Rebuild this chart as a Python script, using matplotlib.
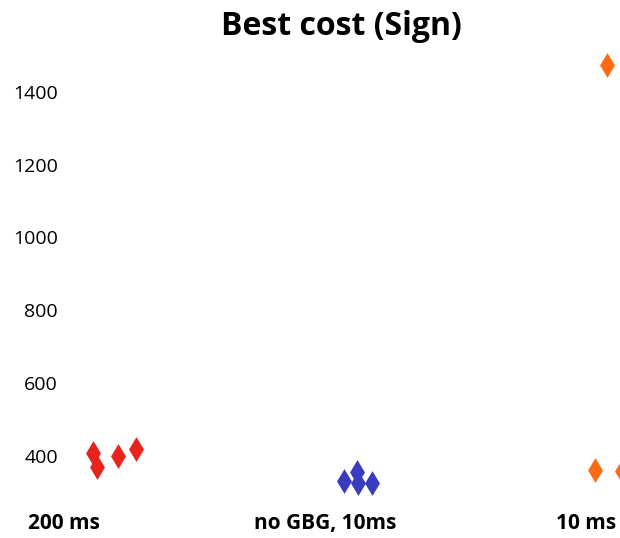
import matplotlib
matplotlib.use("Agg")
import matplotlib.pyplot as plt

categories = ["200 ms", "no GBG, 10ms", "10 ms"]
colors = ["#e8231c", "#3a3cc0", "#ff6a14"]

# best-cost values per category
values_200ms = [407, 371, 400, 419]
values_nogbg = [332, 355, 325, 325]
values_10ms = [362, 1473, 360]

# horizontal jitter of each point within its category
jitter_200ms = [0.113, 0.128, 0.208, 0.277]
jitter_nogbg = [0.073, 0.122, 0.126, 0.180]
jitter_10ms = [0.033, 0.078, 0.135]

yticks = [400, 600, 800, 1000, 1200, 1400]

plt.rcParams['font.family'] = ['Open Sans', 'DejaVu Sans']

fig = plt.figure(figsize=(6.2, 5.38), dpi=100)
ax = fig.add_axes([0.1, 1 - 505 / 538, 0.9, (505 - 50) / 538])

series = [values_200ms, values_nogbg, values_10ms]
jitters = [jitter_200ms, jitter_nogbg, jitter_10ms]
for i, (vals, jit, col) in enumerate(zip(series, jitters, colors)):
    xs = [i + j for j in jit]
    ax.scatter(xs, vals, marker='d', s=160, color=col, linewidths=0, zorder=3)

ax.set_xlim(-0.006, 2.128)
ax.set_ylim(265.5, 1514.5)
ax.set_xticks(range(len(categories)))
ax.set_xticklabels(categories, fontweight='bold', fontsize=15)
ax.set_yticks(yticks)
ax.set_yticklabels([str(t) for t in yticks], fontsize=14)
ax.tick_params(axis='both', length=0)
ax.tick_params(axis='x', pad=6)
ax.tick_params(axis='y', pad=3)
for s in ax.spines.values():
    s.set_visible(False)
ax.set_title("Best cost (Sign)", fontsize=23, fontweight='bold', pad=11)

fig.savefig("out.png", dpi=100)
